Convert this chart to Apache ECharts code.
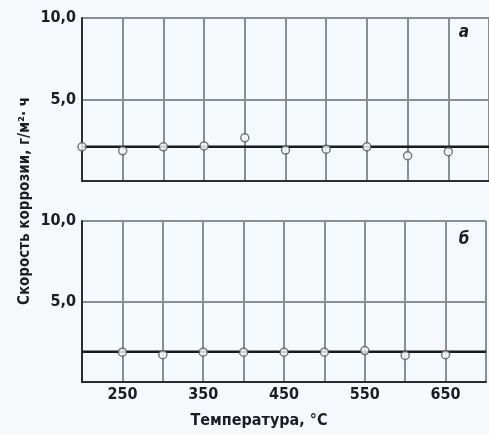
<!DOCTYPE html>
<html>
<head>
<meta charset="utf-8">
<script src="https://cdn.jsdelivr.net/npm/echarts@6/dist/echarts.min.js"></script>
<style>
  html, body { margin: 0; padding: 0; background: #f6f9fb; }
  #chart { width: 489px; height: 435px; }
</style>
</head>
<body>
<div id="chart"></div>
<script>
var chart = echarts.init(document.getElementById('chart'));

// данные (температура, °C / скорость коррозии, г/м2·ч)
var tempA = [200, 250, 300, 350, 400, 450, 500, 550, 600, 650];
var rateA = [2.1, 1.85, 2.1, 2.15, 2.65, 1.9, 1.95, 2.1, 1.55, 1.8];
var fitA = 2.1;

var tempB = [250, 300, 350, 400, 450, 500, 550, 600, 650];
var rateB = [1.85, 1.7, 1.85, 1.85, 1.85, 1.85, 1.95, 1.65, 1.7];
var fitB = 1.88;

var xMin = 200, xMax = 700;
var yTicks = ['0', '5,0', '10,0'];

var font = "'DejaVu Sans Condensed', 'Liberation Sans Narrow', sans-serif";
var textColor = '#1c1d24';
var gridColor = '#868f94';

function pairs(xs, ys) {
    return xs.map(function (x, i) { return [x, ys[i]]; });
}

function xAxis(idx, showLabels) {
    return {
        type: 'value',
        gridIndex: idx,
        min: xMin,
        max: xMax,
        interval: 50,
        axisLine: { show: true, onZero: false, lineStyle: { color: '#2a2c30', width: 2 } },
        axisTick: { show: false },
        splitLine: { show: true, lineStyle: { color: gridColor, width: 2 } },
        axisLabel: {
            show: showLabels,
            margin: 5,
            fontFamily: font,
            fontWeight: 'bold',
            fontSize: 16,
            color: textColor,
            formatter: function (v) { return (v - 250) % 100 === 0 ? String(v) : ''; }
        },
        name: showLabels ? 'Температура, °C' : '',
        nameLocation: 'middle',
        nameGap: 31,
        nameTextStyle: {
            fontFamily: font, fontWeight: 'bold', fontSize: 16, color: textColor,
            padding: [0, 50, 0, 0]
        }
    };
}

function yAxis(idx) {
    return {
        type: 'value',
        gridIndex: idx,
        min: 0,
        max: 10,
        interval: 5,
        axisLine: { show: true, lineStyle: { color: '#2a2c30', width: 2 } },
        axisTick: { show: false },
        splitLine: { show: true, lineStyle: { color: gridColor, width: 2 } },
        axisLabel: {
            margin: 6,
            fontFamily: font,
            fontWeight: 'bold',
            fontSize: 16,
            color: textColor,
            formatter: function (v) { return v === 0 ? '' : yTicks[v / 5]; }
        }
    };
}

function fitSeries(idx, val) {
    return {
        type: 'line',
        xAxisIndex: idx,
        yAxisIndex: idx,
        data: [[xMin, val], [xMax, val]],
        symbol: 'none',
        lineStyle: { color: '#1a1a1a', width: 2.5 },
        silent: true
    };
}

function pointSeries(idx, xs, ys) {
    return {
        type: 'scatter',
        xAxisIndex: idx,
        yAxisIndex: idx,
        data: pairs(xs, ys),
        symbol: 'circle',
        symbolSize: 8,
        clip: false,
        itemStyle: { color: '#ffffff', borderColor: '#55595c', borderWidth: 1.5 },
        z: 5
    };
}

var option = {
    backgroundColor: '#f6f9fb',
    animation: false,
    grid: [
        { left: 82, top: 18, width: 411, height: 163 },
        { left: 82, top: 221, width: 411, height: 161 }
    ],
    xAxis: [xAxis(0, false), xAxis(1, true)],
    yAxis: [yAxis(0), yAxis(1)],
    series: [
        fitSeries(0, fitA),
        pointSeries(0, tempA, rateA),
        fitSeries(1, fitB),
        pointSeries(1, tempB, rateB)
    ],
    graphic: [
        {
            type: 'text',
            x: 25, y: 201,
            rotation: Math.PI / 2,
            style: {
                text: 'Скорость коррозии, г/м²· ч',
                font: 'bold 15px ' + font,
                fill: textColor,
                align: 'center',
                verticalAlign: 'middle'
            }
        },
        {
            type: 'text', x: 464, y: 33,
            style: { text: 'а', font: 'italic bold 17px ' + font, fill: textColor, align: 'center', verticalAlign: 'middle' }
        },
        {
            type: 'text', x: 464, y: 240,
            style: { text: 'б', font: 'italic bold 17px ' + font, fill: textColor, align: 'center', verticalAlign: 'middle' }
        }
    ]
};

chart.setOption(option);
</script>
</body>
</html>
